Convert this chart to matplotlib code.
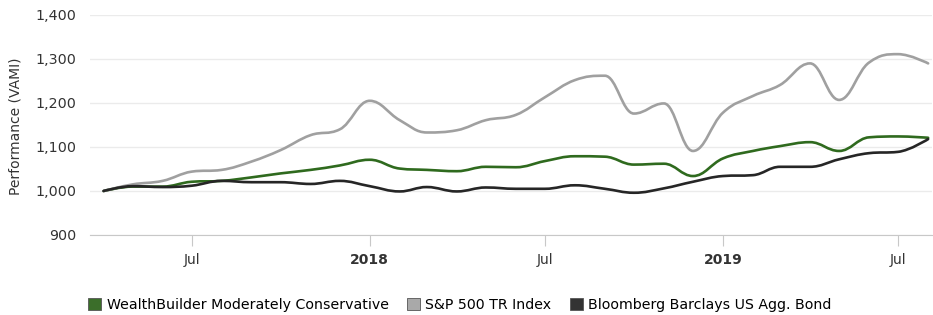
import numpy as np
import matplotlib
matplotlib.use('Agg')
import matplotlib.pyplot as plt
import matplotlib.dates as mdates
from matplotlib.path import Path
from matplotlib.patches import PathPatch, Patch
from matplotlib.ticker import FuncFormatter
import datetime as dt

# month-start dates, Apr 2017 .. Aug 2019
months = [dt.date(2017 + (3 + i) // 12, (3 + i) % 12 + 1, 1) for i in range(29)]

wealthbuilder = [1000, 1010, 1010, 1021, 1023, 1031, 1040, 1048, 1058, 1071,
                 1051, 1048, 1045, 1055, 1054, 1068, 1079, 1078, 1060, 1062,
                 1034, 1074, 1091, 1102, 1111, 1091, 1122, 1124, 1121]
sp500 = [1000, 1015, 1023, 1044, 1048, 1067, 1093, 1127, 1140, 1205,
         1161, 1133, 1138, 1161, 1173, 1213, 1252, 1262, 1176, 1199,
         1091, 1178, 1216, 1241, 1290, 1207, 1292, 1311, 1290]
agg_bond = [1000, 1011, 1009, 1012, 1023, 1020, 1020, 1016, 1023, 1011,
            999, 1009, 999, 1008, 1005, 1005, 1013, 1005, 996, 1006,
            1021, 1034, 1036, 1055, 1055, 1072, 1086, 1089, 1118]

series = [
    ('WealthBuilder Moderately Conservative', wealthbuilder, '#2f6a1e', '#3b6e2a'),
    ('S&P 500 TR Index', sp500, '#a0a0a0', '#a9a9a9'),
    ('Bloomberg Barclays US Agg. Bond', agg_bond, '#262626', '#333333'),
]


def spline_path(xs, ys, smoothing=1.5):
    # cubic bezier through every point, control points as in a Highcharts spline
    n = len(xs)
    denom = smoothing + 1
    verts = [(xs[0], ys[0])]
    codes = [Path.MOVETO]
    right = [None] * n
    for i in range(1, n):
        x, y = xs[i], ys[i]
        lx, ly = xs[i - 1], ys[i - 1]
        lcx, lcy = x, y
        if i < n - 1:
            nx, ny = xs[i + 1], ys[i + 1]
            lcx = (smoothing * x + lx) / denom
            lcy = (smoothing * y + ly) / denom
            rcx = (smoothing * x + nx) / denom
            rcy = (smoothing * y + ny) / denom
            corr = 0
            if rcx != lcx:
                corr = (rcy - lcy) * (rcx - x) / (rcx - lcx) + y - rcy
            lcy += corr
            rcy += corr
            if lcy > ly and lcy > y:
                lcy = max(ly, y)
                rcy = 2 * y - lcy
            elif lcy < ly and lcy < y:
                lcy = min(ly, y)
                rcy = 2 * y - lcy
            if rcy > ny and rcy > y:
                rcy = max(ny, y)
                lcy = 2 * y - rcy
            elif rcy < ny and rcy < y:
                rcy = min(ny, y)
                lcy = 2 * y - rcy
            right[i] = (rcx, rcy)
        c1 = right[i - 1] if right[i - 1] is not None else (lx, ly)
        verts += [c1, (lcx, lcy), (x, y)]
        codes += [Path.CURVE4] * 3
    return Path(verts, codes)


fig = plt.figure(figsize=(9.33, 3.15), dpi=100)
ax = fig.add_axes([90 / 933, 80 / 315, 842 / 933, 220 / 315])

xs = mdates.date2num(months)
for name, vals, color, _ in series:
    p = spline_path(list(xs), list(vals))
    ax.add_patch(PathPatch(p, facecolor='none', edgecolor=color, lw=1.9,
                           capstyle='round', joinstyle='round'))

ax.set_xlim(mdates.date2num(dt.date(2017, 3, 18)), mdates.date2num(dt.date(2019, 8, 5)))
ax.set_ylim(900, 1400)
ax.set_yticks(np.arange(900, 1401, 100))
ax.yaxis.set_major_formatter(FuncFormatter(lambda v, p: f'{int(v):,}'))
ax.tick_params(axis='y', length=0, pad=9.5, labelsize=10.3, labelcolor='#333333')
ax.grid(axis='y', color='#ebebeb', lw=1)
ax.set_axisbelow(True)

tick_dates = [dt.date(2017, 7, 1), dt.date(2018, 1, 1), dt.date(2018, 7, 1),
              dt.date(2019, 1, 1), dt.date(2019, 7, 1)]
tick_labels = ['Jul', '2018', 'Jul', '2019', 'Jul']
ax.set_xticks(mdates.date2num(tick_dates))
ax.set_xticklabels(tick_labels)
for lab in ax.get_xticklabels():
    if lab.get_text().isdigit():
        lab.set_fontweight('bold')
ax.tick_params(axis='x', length=8, color='#c8c8c8', pad=5, labelsize=10, labelcolor='#333333')

for s in ['top', 'left', 'right']:
    ax.spines[s].set_visible(False)
ax.spines['bottom'].set_color('#c8c8c8')

fig.text(16 / 933, 1 - 126 / 315, 'Performance (VAMI)', rotation=90,
         ha='center', va='center', fontsize=10, color='#333333')

handles = [Patch(facecolor=fc, edgecolor='#555555', lw=0.6, label=name)
           for name, _, _, fc in series]
fig.legend(handles=handles, loc='center', bbox_to_anchor=(0.493, 10 / 315), ncol=3,
           frameon=False, fontsize=10.2, handlelength=0.9, handleheight=0.9,
           handletextpad=0.4, columnspacing=1.3)

fig.savefig('out.png', dpi=100)
